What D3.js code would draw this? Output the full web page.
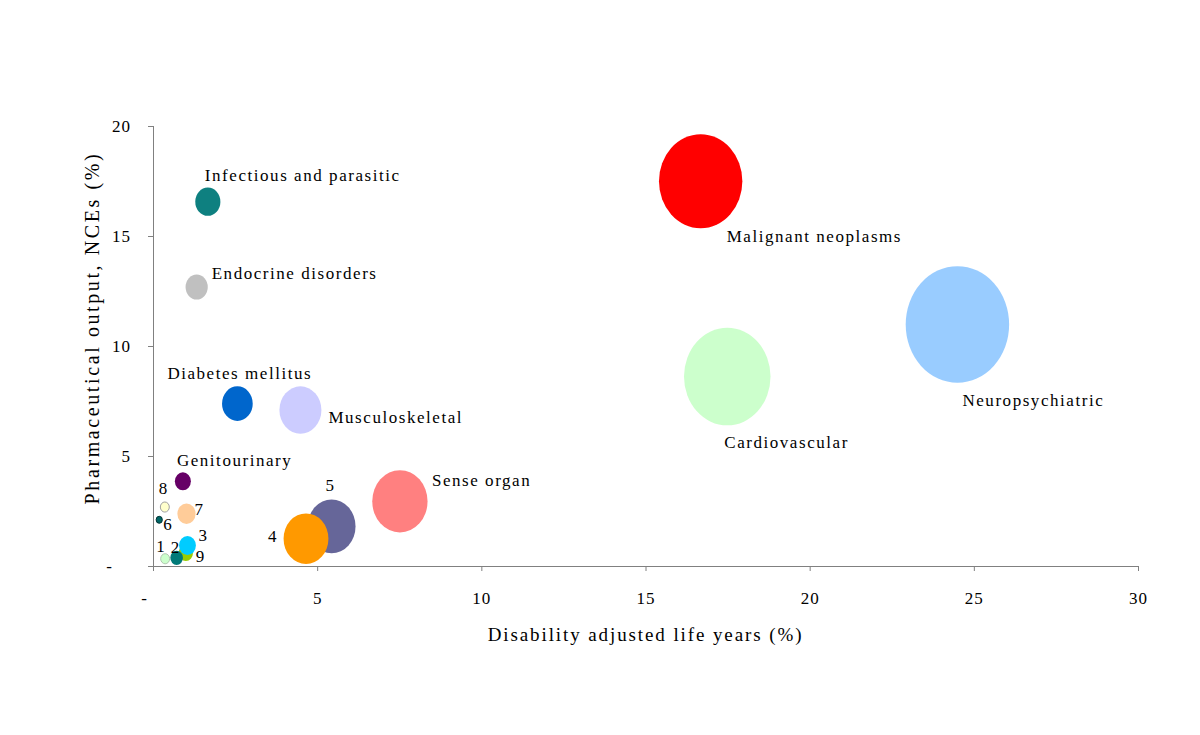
<!DOCTYPE html>
<html>
<head>
<meta charset="utf-8">
<script src="https://cdn.jsdelivr.net/npm/d3@7"></script>
<style>
  html, body { margin: 0; padding: 0; background: #fff; }
  svg text { font-family: "Liberation Serif", "Times New Roman", serif; fill: #000; }
</style>
</head>
<body>
<svg id="chart" width="1200" height="735"></svg>
<script>
// ---- data ----
const categories = ["Neuropsychiatric", "Cardiovascular", "Malignant neoplasms", "Sense organ",
  "5", "4", "Musculoskeletal", "Diabetes mellitus", "Infectious and parasitic", "Endocrine disorders",
  "Genitourinary", "7", "8", "6", "9", "3", "2", "1"];
const dalys    = [24.5, 17.49, 16.68, 7.52, 5.44, 4.66, 4.49, 2.57, 1.67, 1.33, 0.91, 1.02, 0.36, 0.19, 1.00, 1.05, 0.72, 0.37];
const nces     = [10.98, 8.61, 17.49, 2.94, 1.80, 1.24, 7.09, 7.38, 16.56, 12.68, 3.85, 2.37, 2.68, 2.10, 0.59, 0.93, 0.37, 0.33];
const sizes    = [100, 70, 65, 28.6, 21.4, 18.8, 16.5, 8.8, 5.9, 4.6, 2.4, 3.1, 0.75, 0.36, 1.9, 2.65, 1.5, 0.75];
const colors   = ["#99ccff", "#ccffcc", "#ff0000", "#ff8080", "#666699", "#ff9900", "#ccccff", "#0066cc",
  "#0e8080", "#c0c0c0", "#660066", "#ffcc99", "#ffffcc", "#006666", "#99cc00", "#00ccff", "#007a78", "#ccffcc"];
const strokes  = [null, null, null, null, null, null, null, null, null, null, null, null, "#a0a0a0", "#003333", null, null, null, "#b0c8b0"];
const xTicks = [0, 5, 10, 15, 20, 25, 30];
const yTicks = [0, 5, 10, 15, 20];
const xTickLabels = ["-", "5", "10", "15", "20", "25", "30"];
const yTickLabels = ["-", "5", "10", "15", "20"];
const xTitle = "Disability adjusted life years (%)";
const yTitle = "Pharmaceutical output, NCEs (%)";

// label offsets (layout, px) relative to bubble centre, and anchor
const labelLayout = {
  "Neuropsychiatric": [5, 82, "start"],
  "Cardiovascular": [-3, 71, "start"],
  "Malignant neoplasms": [26, 61, "start"],
  "Sense organ": [32, -15, "start"],
  "5": [-6, -35, "start"],
  "4": [-38, 3, "start"],
  "Musculoskeletal": [28, 13, "start"],
  "Diabetes mellitus": [-70, -25, "start"],
  "Infectious and parasitic": [-3, -21, "start"],
  "Endocrine disorders": [15, -8, "start"],
  "Genitourinary": [-6, -15, "start"],
  "7": [8, 1, "start"],
  "8": [-6, -13, "start"],
  "6": [4, 10, "start"],
  "9": [10, 9, "start"],
  "3": [11, -5, "start"],
  "2": [-6, -5, "start"],
  "1": [-9, -7, "start"]
};

const svg = d3.select("#chart");
const mLeft = 153, mRight = 1138, mTop = 126, mBottom = 566;
const x = d3.scaleLinear().domain([0, 30]).range([mLeft, mRight]);
const y = d3.scaleLinear().domain([0, 20]).range([mBottom, mTop]);
const r = d3.scaleSqrt().domain([0, 100]).range([0, 58.3]);
const aspect = 0.887;

// axes
const xAxis = d3.axisBottom(x).tickValues(xTicks).tickSize(5).tickFormat((d, i) => xTickLabels[i]);
const yAxis = d3.axisLeft(y).tickValues(yTicks).tickSize(5).tickFormat((d, i) => yTickLabels[i]);

const gx = svg.append("g").attr("transform", `translate(0,${mBottom})`).call(xAxis);
gx.select(".domain").attr("stroke", "#808080").attr("d", `M${mLeft},0.5H${mRight}`);
gx.selectAll(".tick line").attr("stroke", "#808080");
gx.selectAll(".tick text").attr("y", 26).attr("font-size", 17).attr("fill", "#000")
  .style("letter-spacing", "1px")
  .attr("font-family", "Liberation Serif, serif")
  .attr("dx", (d) => d === 0 ? -9 : 0);

const gy = svg.append("g").attr("transform", `translate(${mLeft},0)`).call(yAxis);
gy.select(".domain").attr("stroke", "#808080").attr("d", `M0.5,${mTop}V${mBottom}`);
gy.selectAll(".tick line").attr("stroke", "#808080");
gy.selectAll(".tick text").attr("x", -22).attr("font-size", 17).attr("fill", "#000")
  .style("letter-spacing", "1px")
  .attr("font-family", "Liberation Serif, serif")
  .attr("dx", (d) => d === 0 ? -18 : 0);

// bubbles
const data = categories.map((c, i) => ({ name: c, x: dalys[i], y: nces[i], s: sizes[i], fill: colors[i], stroke: strokes[i] }));
svg.append("g").selectAll("ellipse").data(data).enter().append("ellipse")
  .attr("cx", d => x(d.x))
  .attr("cy", d => y(d.y))
  .attr("rx", d => r(d.s) * aspect)
  .attr("ry", d => r(d.s))
  .attr("fill", d => d.fill)
  .attr("stroke", d => d.stroke || "none")
  .attr("stroke-width", d => d.stroke ? 1 : 0);

// labels
svg.append("g").selectAll("text").data(data).enter().append("text")
  .attr("x", d => x(d.x) + labelLayout[d.name][0])
  .attr("y", d => y(d.y) + labelLayout[d.name][1])
  .attr("text-anchor", d => labelLayout[d.name][2])
  .attr("font-size", 17)
  .style("letter-spacing", d => d.name.length > 1 ? "1.55px" : "0px")
  .text(d => d.name);

// axis titles
svg.append("text")
  .attr("x", (mLeft + mRight) / 2)
  .attr("y", 641)
  .attr("text-anchor", "middle")
  .attr("font-size", 19)
  .style("letter-spacing", "1.9px")
  .text(xTitle);

svg.append("text")
  .attr("transform", `translate(99,${(mTop + mBottom) / 2 - 18}) rotate(-90)`)
  .attr("text-anchor", "middle")
  .attr("font-size", 20)
  .style("letter-spacing", "2.6px")
  .text(yTitle);
</script>
</body>
</html>
